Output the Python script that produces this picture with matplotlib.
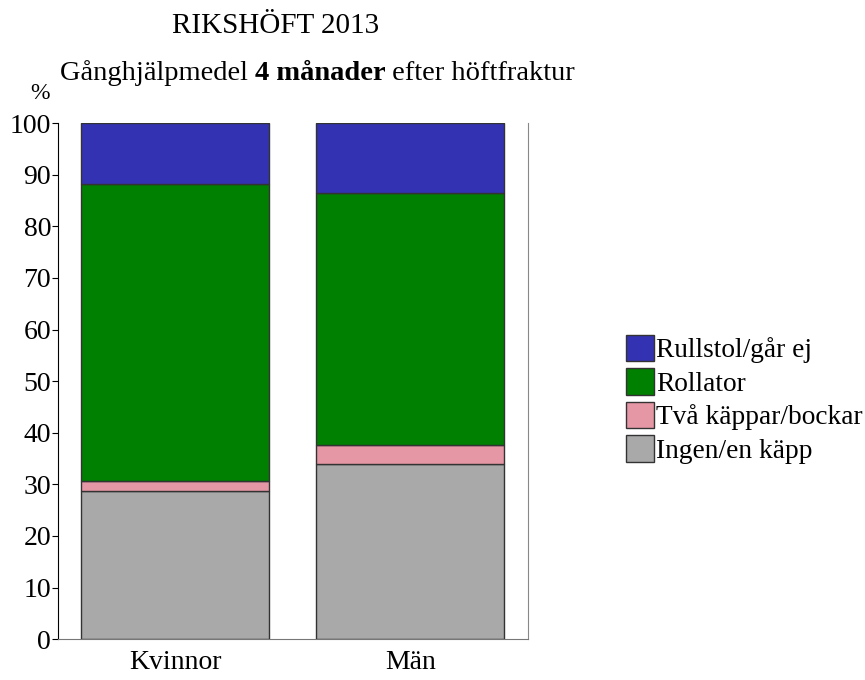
import numpy as np
import matplotlib.pyplot as plt

plt.rcParams['font.family'] = ['Liberation Serif', 'DejaVu Serif']

groups = ['Kvinnor', 'Män']
labels = ['Ingen/en käpp', 'Två käppar/bockar', 'Rollator', 'Rullstol/går ej']
ingen = [28.7, 33.9]
tva = [1.9, 3.8]
rollator = [57.6, 48.7]
rullstol = [11.8, 13.6]
colors = ['#a9a9a9', '#e597a5', '#008000', '#3232b2']

fig = plt.figure(figsize=(8.65, 6.8), dpi=100)
ax = fig.add_axes([0.067, 0.060, 0.543, 0.759])

x = np.arange(len(groups))
bottom = np.zeros(len(groups))
for vals, col, lab in zip([ingen, tva, rollator, rullstol], colors, labels):
    ax.bar(x, vals, width=0.8, bottom=bottom, color=col, edgecolor='#333333',
           linewidth=1, label=lab)
    bottom += np.array(vals)

ax.set_xlim(-0.5, 1.5)
ax.set_ylim(0, 100)
ax.set_yticks(range(0, 101, 10))
ax.set_xticks(x)
ax.set_xticklabels(groups)
ax.tick_params(axis='y', labelsize=20, length=4, pad=1)
ax.tick_params(axis='x', labelsize=20, length=0, pad=8)
ax.spines['top'].set_visible(False)
ax.spines['right'].set_color('#888888')
ax.spines['bottom'].set_color('#777777')

# titles
fig.text(0.318, 0.962, 'RIKSHÖFT 2013', fontsize=21, ha='center', va='center')
t1 = fig.text(0.069, 0.893, 'Gånghjälpmedel ', fontsize=20.5, va='center')
t2 = ax.annotate('4 månader', xy=(1, 0), xycoords=t1, fontsize=20.5,
                 fontweight='bold', va='bottom')
ax.annotate(' efter höftfraktur', xy=(1, 0), xycoords=t2, fontsize=20.5, va='bottom')
fig.text(0.046, 0.863, '%', fontsize=17, ha='center', va='center')

# legend with Rullstol on top
h, l = ax.get_legend_handles_labels()
fig.legend(h[::-1], l[::-1], loc='upper left', bbox_to_anchor=(0.724, 0.508),
           frameon=False, fontsize=19.7, handlelength=1.02, handleheight=1.12,
           labelspacing=0.18, handletextpad=0.08, borderpad=0, borderaxespad=0)

plt.savefig('out.png', dpi=100)
